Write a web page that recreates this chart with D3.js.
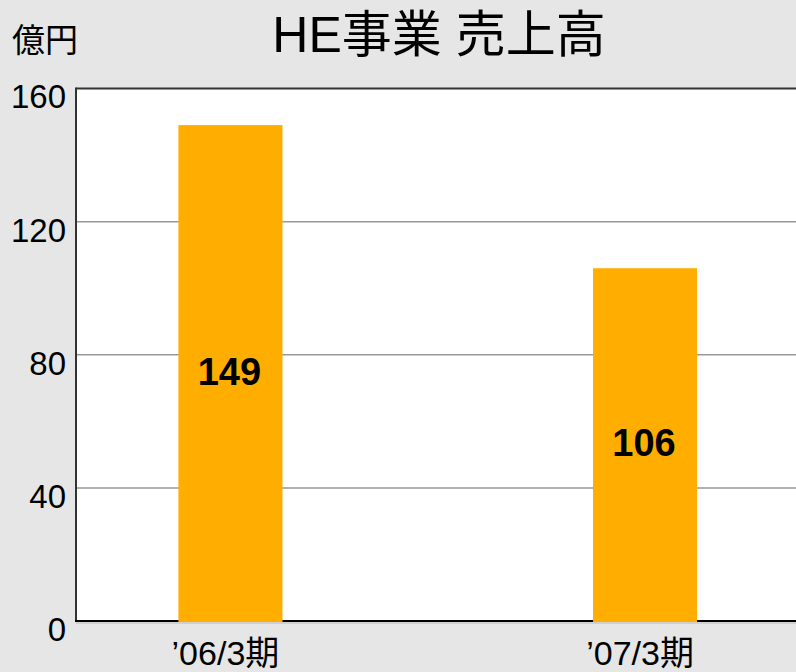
<!DOCTYPE html>
<html>
<head>
<meta charset="utf-8">
<script src="https://cdn.jsdelivr.net/npm/d3@7"></script>
<style>
  html, body { margin: 0; padding: 0; background: #e6e6e6; }
  svg { display: block; }
  text { font-family: "Liberation Sans", Arial, "Noto Sans CJK JP", sans-serif; fill: #000; }
</style>
</head>
<body>
<svg id="chart"></svg>
<script>
// data
var categories = ["\u201906/3\u671f", "\u201907/3\u671f"];
var sales = [149, 106];
var yTicks = [0, 40, 80, 120, 160];

var W = 796, H = 672;
var margin = {top: 88.5, right: 0, bottom: 51, left: 76};

var svg = d3.select("#chart")
  .attr("width", W)
  .attr("height", H);

svg.append("rect")
  .attr("width", W).attr("height", H)
  .attr("fill", "#e6e6e6");

var x = d3.scaleBand()
  .domain(categories)
  .range([margin.left, 799.5])
  .paddingInner(0.749)
  .paddingOuter(0.247);

var y = d3.scaleLinear()
  .domain([0, 160])
  .range([H - margin.bottom, margin.top]);

// plot area
svg.append("rect")
  .attr("x", margin.left)
  .attr("y", y(160))
  .attr("width", W - margin.left)
  .attr("height", y(0) - y(160))
  .attr("fill", "#fff");

// gridlines
svg.selectAll(".grid")
  .data(yTicks.filter(function(d) { return d > 0 && d < 160; }))
  .enter().append("line")
    .attr("class", "grid")
    .attr("x1", margin.left).attr("x2", W)
    .attr("y1", function(d) { return y(d); })
    .attr("y2", function(d) { return y(d); })
    .attr("stroke", "#999")
    .attr("stroke-width", 1.5);

// frame: top and left
svg.append("line")
  .attr("x1", margin.left).attr("x2", W)
  .attr("y1", y(160)).attr("y2", y(160))
  .attr("stroke", "#333").attr("stroke-width", 2);
svg.append("line")
  .attr("x1", margin.left).attr("x2", margin.left)
  .attr("y1", y(160) - 1).attr("y2", y(0))
  .attr("stroke", "#333").attr("stroke-width", 2);

// bottom axis line with a faint shadow
svg.append("line")
  .attr("x1", margin.left).attr("x2", W)
  .attr("y1", y(0) + 2).attr("y2", y(0) + 2)
  .attr("stroke", "#c8c8c8").attr("stroke-width", 1.5);
svg.append("line")
  .attr("x1", margin.left - 1).attr("x2", W)
  .attr("y1", y(0)).attr("y2", y(0))
  .attr("stroke", "#000").attr("stroke-width", 2);

// bars
svg.selectAll(".bar")
  .data(sales)
  .enter().append("rect")
    .attr("class", "bar")
    .attr("x", function(d, i) { return x(categories[i]); })
    .attr("y", function(d) { return y(d); })
    .attr("width", x.bandwidth())
    .attr("height", function(d) { return y(0) - y(d) + 1; })
    .attr("fill", "#ffae00");

// value labels in the middle of each bar
svg.selectAll(".val")
  .data(sales)
  .enter().append("text")
    .attr("class", "val")
    .attr("x", function(d, i) { return x(categories[i]) + x.bandwidth() / 2 - 1; })
    .attr("y", function(d) { return (y(d) + y(0)) / 2 - 2; })
    .attr("dy", "0.36em")
    .attr("text-anchor", "middle")
    .style("font-size", "38px")
    .style("font-weight", "bold")
    .text(function(d) { return d; });

// y tick labels
svg.selectAll(".ytick")
  .data(yTicks)
  .enter().append("text")
    .attr("class", "ytick")
    .attr("x", 66)
    .attr("y", function(d) { return y(d) + 8; })
    .attr("dy", "0.36em")
    .attr("text-anchor", "end")
    .style("font-size", "33px")
    .text(function(d) { return d; });

// x labels
svg.selectAll(".xlab")
  .data(categories)
  .enter().append("text")
    .attr("class", "xlab")
    .attr("x", function(d) { return x(d) + x.bandwidth() / 2 - 5; })
    .attr("y", 665)
    .attr("text-anchor", "middle")
    .style("font-size", "34px")
    .text(function(d) { return d; });

// title and unit
svg.append("text")
  .attr("x", 439)
  .attr("y", 52)
  .attr("text-anchor", "middle")
  .style("font-size", "50px")
  .text("HE\u4e8b\u696d \u58f2\u4e0a\u9ad8");

svg.append("text")
  .attr("x", 12)
  .attr("y", 52)
  .style("font-size", "33px")
  .text("\u5104\u5186");
</script>
</body>
</html>
